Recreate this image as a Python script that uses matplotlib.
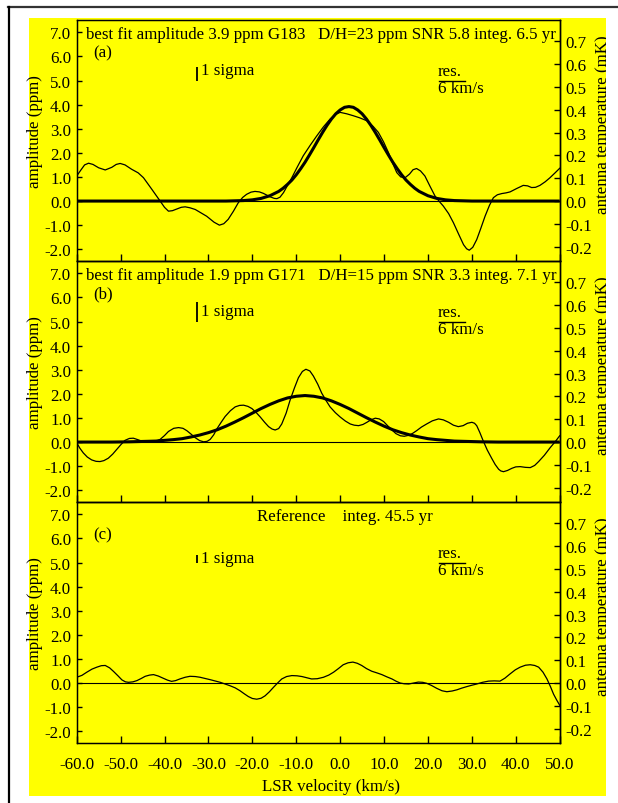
import numpy as np
import matplotlib
matplotlib.use('Agg')
import matplotlib.pyplot as plt
import matplotlib.transforms as mtransforms
from matplotlib.patches import Rectangle
from matplotlib.lines import Line2D

FS = 12.2
plt.rcParams['font.family'] = ['Liberation Serif', 'DejaVu Serif']
plt.rcParams['axes.unicode_minus'] = False
plt.rcParams['font.size'] = FS

# panel (a) G183 : smoothed spectrum (ppm) vs LSR velocity (km/s)
vel_a = [-60.0, -59.0, -58.2, -57.3, -56.3, -55.0, -53.5, -52.0, -51.0, -50.1, -49.0, -47.5,
         -46.0, -44.8, -42.9, -41.0, -40.0, -39.1, -38.2, -37.2, -36.2, -35.3, -34.2, -33.0,
         -30.4, -28.7, -27.5, -26.5, -25.5, -24.3, -23.2, -22.2, -21.3, -20.3, -19.4, -18.4,
         -17.5, -16.0, -15.0, -14.4, -13.7, -12.9, -11.0, -9.8, -8.4, -6.8, -5.3, -3.8,
         -2.3, -1.0, 0.0, 1.5, 3.0, 4.5, 6.1, 7.5, 8.7, 9.9, 11.0, 12.0,
         12.9, 13.8, 14.8, 15.8, 16.6, 17.4, 18.3, 19.3, 20.5, 21.6, 22.5, 23.5,
         24.7, 25.8, 27.0, 28.1, 28.8, 29.4, 30.2, 31.1, 32.0, 33.0, 34.0, 34.9,
         35.8, 36.8, 37.8, 38.7, 40.2, 41.7, 42.7, 43.6, 44.5, 45.5, 46.7, 47.8, 49.0, 50.0]
amp_a = [1.04, 1.30, 1.50, 1.57, 1.52, 1.38, 1.29, 1.40, 1.52, 1.56, 1.50, 1.32,
         1.17, 0.97, 0.49, 0.00, -0.26, -0.42, -0.40, -0.33, -0.26, -0.24, -0.28, -0.35,
         -0.63, -0.88, -1.00, -0.94, -0.76, -0.42, -0.07, 0.15, 0.28, 0.37, 0.40, 0.38,
         0.32, 0.18, 0.11, 0.10, 0.16, 0.35, 0.97, 1.40, 1.88, 2.32, 2.71, 3.08,
         3.40, 3.60, 3.68, 3.62, 3.54, 3.45, 3.33, 3.10, 2.85, 2.45, 2.01, 1.55,
         1.18, 1.00, 0.97, 1.12, 1.30, 1.35, 1.25, 1.04, 0.60, 0.21, 0.00, -0.21,
         -0.52, -0.90, -1.38, -1.81, -1.98, -2.04, -1.92, -1.60, -1.15, -0.63, -0.18, 0.14,
         0.26, 0.31, 0.34, 0.38, 0.52, 0.65, 0.63, 0.56, 0.57, 0.65, 0.80, 0.97, 1.18, 1.36]
# best fit profile (a)
fit_vel_a = [-60, -30, -26, -24, -22, -20, -18, -16, -14, -13, -12, -11, -10, -9, -8, -7, -6,
             -5, -4, -3, -2, -1, 0, 1, 2, 3, 4, 5, 6, 7, 8, 9, 10, 11, 12, 13, 14, 15, 16, 17,
             18, 20, 22, 24, 26, 28, 30, 50]
fit_amp_a = [0.0, 0.0, 0.0, 0.01, 0.02, 0.05, 0.11, 0.22, 0.40, 0.53, 0.69, 0.87, 1.09, 1.34,
             1.61, 1.91, 2.22, 2.54, 2.85, 3.14, 3.40, 3.62, 3.78, 3.89, 3.92, 3.89, 3.78,
             3.62, 3.40, 3.14, 2.85, 2.54, 2.22, 1.91, 1.61, 1.34, 1.09, 0.87, 0.69, 0.53,
             0.40, 0.22, 0.11, 0.05, 0.02, 0.01, 0.0, 0.0]

# panel (b) G171
vel_b = [-60.0, -59.3, -58.5, -57.6, -56.6, -55.6, -54.7, -53.8, -52.8, -51.8, -50.9, -49.9,
         -49.0, -48.0, -47.1, -46.1, -45.2, -44.0, -42.9, -41.9, -41.0, -40.0, -39.1, -37.9,
         -36.8, -35.8, -34.9, -33.9, -33.0, -32.0, -31.1, -30.3, -29.6, -28.8, -28.1, -27.1,
         -26.2, -25.0, -23.9, -22.9, -22.0, -21.0, -20.1, -19.1, -18.2, -17.2, -16.3, -15.5,
         -14.8, -14.0, -13.3, -12.3, -11.4, -10.4, -9.5, -8.6, -7.8, -6.9, -6.1, -5.1,
         -4.2, -3.2, -2.3, -1.1, 0.0, 1.2, 2.3, 3.2, 4.2, 5.2, 6.1, 7.0,
         8.0, 8.9, 9.9, 10.8, 11.8, 12.7, 13.7, 14.6, 15.6, 16.5, 17.4, 18.5,
         19.7, 21.0, 22.4, 23.5, 24.7, 25.8, 26.9, 28.0, 29.0, 30.0, 30.6, 31.1,
         31.8, 32.6, 33.5, 34.5, 35.3, 36.1, 36.6, 37.2, 38.1, 39.1, 40.0, 41.0,
         42.2, 43.3, 44.3, 45.2, 46.5, 47.8, 49.0, 50.0]
amp_b = [-0.03, -0.25, -0.45, -0.62, -0.74, -0.80, -0.81, -0.77, -0.67, -0.50, -0.31, -0.10,
         0.07, 0.15, 0.16, 0.10, 0.04, 0.01, 0.01, 0.04, 0.11, 0.27, 0.44, 0.57,
         0.60, 0.57, 0.47, 0.32, 0.18, 0.06, 0.01, 0.03, 0.11, 0.30, 0.54, 0.82,
         1.06, 1.30, 1.46, 1.52, 1.53, 1.48, 1.39, 1.22, 1.04, 0.82, 0.64, 0.54,
         0.50, 0.56, 0.75, 1.20, 1.74, 2.25, 2.67, 2.93, 3.02, 2.95, 2.74, 2.40,
         2.03, 1.72, 1.46, 1.22, 1.04, 0.87, 0.75, 0.70, 0.68, 0.73, 0.82, 0.92,
         0.99, 0.96, 0.85, 0.68, 0.50, 0.35, 0.26, 0.24, 0.28, 0.36, 0.47, 0.62,
         0.75, 0.88, 0.96, 0.92, 0.82, 0.70, 0.64, 0.68, 0.78, 0.82, 0.78, 0.68,
         0.40, 0.04, -0.33, -0.67, -0.93, -1.13, -1.20, -1.23, -1.18, -1.09, -1.03, -1.02,
         -1.05, -1.06, -0.97, -0.81, -0.55, -0.24, 0.02, 0.26]
fit_vel_b = [-60, -52, -48, -46, -44, -42, -40, -38, -36, -34, -32, -30, -28, -26, -24, -22,
             -20, -18, -16, -14, -12, -10, -8, -6, -4, -2, 0, 2, 4, 6, 8, 10, 12, 14, 16,
             18, 20, 22, 24, 26, 28, 30, 32, 36, 50]
fit_amp_b = [0.0, 0.0, 0.01, 0.02, 0.03, 0.04, 0.07, 0.10, 0.14, 0.21, 0.29, 0.39, 0.51,
             0.66, 0.83, 1.01, 1.20, 1.39, 1.56, 1.71, 1.83, 1.90, 1.93, 1.90, 1.83, 1.71,
             1.56, 1.39, 1.20, 1.01, 0.83, 0.66, 0.51, 0.39, 0.29, 0.21, 0.14, 0.10, 0.07,
             0.04, 0.03, 0.02, 0.01, 0.0, 0.0]

# panel (c) reference
vel_c = [-60.0, -58.8, -57.7, -56.5, -55.4, -54.4, -53.5, -52.5, -51.6, -50.6, -49.7, -48.9,
         -48.2, -47.2, -46.3, -45.3, -44.4, -43.4, -42.5, -41.4, -40.3, -39.3, -38.4, -37.5,
         -36.5, -35.3, -34.2, -33.0, -31.9, -29.6, -27.3, -25.1, -23.9, -22.8, -21.8, -20.9,
         -20.0, -19.0, -18.0, -17.1, -16.1, -15.2, -14.2, -13.3, -12.2, -11.0, -9.8, -8.7,
         -7.6, -6.5, -5.2, -3.8, -2.6, -1.5, -0.4, 0.7, 1.8, 2.9, 3.9, 4.9,
         6.0, 7.2, 8.4, 9.5, 10.6, 11.8, 12.8, 13.7, 14.6, 15.6, 16.7, 17.8,
         18.8, 19.7, 20.8, 22.0, 23.2, 24.3, 25.5, 26.6, 27.7, 28.8, 30.0, 31.1,
         32.4, 33.8, 35.1, 36.4, 37.5, 38.7, 39.9, 41.0, 42.2, 43.3, 44.3, 45.2,
         46.2, 47.1, 47.9, 48.6, 49.3, 50.0]
amp_c = [0.24, 0.32, 0.45, 0.58, 0.66, 0.72, 0.73, 0.63, 0.48, 0.30, 0.13, 0.05,
         0.03, 0.05, 0.10, 0.19, 0.28, 0.33, 0.35, 0.29, 0.20, 0.12, 0.07, 0.10,
         0.17, 0.24, 0.28, 0.27, 0.24, 0.14, 0.03, -0.11, -0.20, -0.32, -0.45, -0.56,
         -0.64, -0.67, -0.63, -0.53, -0.36, -0.18, 0.01, 0.17, 0.27, 0.31, 0.30, 0.27,
         0.22, 0.17, 0.18, 0.24, 0.33, 0.45, 0.60, 0.76, 0.84, 0.87, 0.82, 0.73,
         0.60, 0.49, 0.42, 0.35, 0.26, 0.17, 0.07, 0.00, -0.03, -0.04, 0.00, 0.04,
         0.03, -0.01, -0.10, -0.22, -0.32, -0.36, -0.33, -0.28, -0.21, -0.15, -0.09, -0.04,
         0.03, 0.08, 0.09, 0.08, 0.20, 0.38, 0.55, 0.66, 0.74, 0.76, 0.73, 0.66,
         0.45, 0.17, -0.15, -0.46, -0.70, -0.92]

titles = ['best fit amplitude 3.9 ppm G183   D/H=23 ppm SNR 5.8 integ. 6.5 yr',
          'best fit amplitude 1.9 ppm G171   D/H=15 ppm SNR 3.3 integ. 7.1 yr',
          'Reference    integ. 45.5 yr']
tags = ['(a)', '(b)', '(c)']
sigma = [0.57, 0.81, 0.33]
sigma_text_y = [5.45, 5.42, 5.19]

ppm_per_mK = 9.46
yticks = np.arange(-2, 8, 1.0)
rticks = np.arange(-0.2, 0.75, 0.1)
xticks = np.arange(-60, 51, 10)

W, H = 618, 804
fig = plt.figure(figsize=(W / 100, H / 100), dpi=100)
fig.patch.set_facecolor('white')
fig.patches.append(Rectangle((29 / W, 1 - 796.7 / H), 577 / W, 777.7 / H,
                             transform=fig.transFigure, facecolor='#ffff00',
                             edgecolor='none', zorder=-5))

ax_left, ax_w = 76.7 / W, 483 / W
pan_h = 241 / H
tops = [21.3, 262.3, 503.3]
series = [(vel_a, amp_a, fit_vel_a, fit_amp_a),
          (vel_b, amp_b, fit_vel_b, fit_amp_b),
          (vel_c, amp_c, None, None)]
shift = mtransforms.ScaledTranslation(4 / 100, 0, fig.dpi_scale_trans)

for i in range(3):
    vel, amp, fv, fa = series[i]
    ax = fig.add_axes([ax_left, 1 - (tops[i] + 241) / H, ax_w, pan_h])
    ax.set_facecolor('none')
    ax.set_xlim(-60, 50)
    ax.set_ylim(-2.5, 7.5)
    ax.axhline(0, color='black', lw=0.8)
    ax.plot(vel, amp, color='black', lw=0.9)
    if fv is not None:
        ax.plot(fv, fa, color='black', lw=2.2, solid_capstyle='butt')

    ax.set_yticks(yticks)
    ax.set_yticklabels(['%.1f' % v for v in yticks])
    ax.set_xticks(xticks)
    if i == 2:
        ax.set_xticklabels(['%.1f' % v for v in xticks])
        for lab in ax.get_xticklabels():
            lab.set_transform(lab.get_transform() + shift)
    else:
        ax.set_xticklabels([])
    ax.tick_params(axis='y', direction='in', length=3.5, width=1, pad=4, labelsize=FS)
    ax.tick_params(axis='x', direction='in', length=5, width=1, pad=9, labelsize=FS)
    for s in ax.spines.values():
        s.set_linewidth(1.0)

    # right axis in antenna temperature
    rx = ax.twinx()
    rx.set_facecolor('none')
    rx.set_ylim(-2.5 / ppm_per_mK, 7.5 / ppm_per_mK)
    rx.set_yticks(rticks)
    rx.set_yticklabels(['%.1f' % v for v in rticks])
    rx.tick_params(axis='y', direction='in', length=4, width=1, pad=4, labelsize=FS)
    rx.spines['right'].set_linewidth(1.0)

    # annotations
    if i < 2:
        ax.text(-57.9, 6.93, titles[i], ha='left', va='center', fontsize=FS)
    else:
        ax.text(1.1, 6.93, titles[i], ha='center', va='center', fontsize=FS)
    ax.text(-56.3, 6.15, tags[i], ha='left', va='center', fontsize=FS)

    # 1 sigma bar
    ax.plot([-32.6, -32.6], [5.0, 5.0 + sigma[i]], color='black', lw=1.3,
            solid_capstyle='butt')
    ax.text(-31.6, sigma_text_y[i], '1 sigma', ha='left', va='center', fontsize=FS)

    # resolution marker
    ax.plot([22.4, 28.4], [5.0, 5.0], color='black', lw=1.0)
    ax.text(22.3, 5.38, 'res.', ha='left', va='center', fontsize=FS)
    ax.text(22.3, 4.68, '6 km/s', ha='left', va='center', fontsize=FS)

    cy = tops[i] + 120.5
    fig.text(35 / W, 1 - (cy - 10) / H, 'amplitude (ppm)', rotation=90,
             ha='center', va='center', fontsize=FS)
    fig.text(603 / W, 1 - (cy - 17) / H, 'antenna temperature (mK)', rotation=90,
             ha='center', va='center', fontsize=FS)

fig.text(331 / W, 1 - 786.7 / H, 'LSR velocity (km/s)', ha='center', va='center', fontsize=FS)

# white strip on the right, then the outer frame lines
fig.patches.append(Rectangle((606 / W, 0), 12 / W, 1, transform=fig.transFigure,
                             facecolor='white', edgecolor='none', zorder=50))
fig.lines.append(Line2D([8 / W, 1], [1 - 8 / H, 1 - 8 / H], transform=fig.transFigure,
                        color='#333333', lw=1.6, zorder=60))
fig.lines.append(Line2D([9 / W, 9 / W], [0, 1 - 8 / H], transform=fig.transFigure,
                        color='black', lw=1.6, zorder=60))

fig.savefig('out.png', dpi=100)
